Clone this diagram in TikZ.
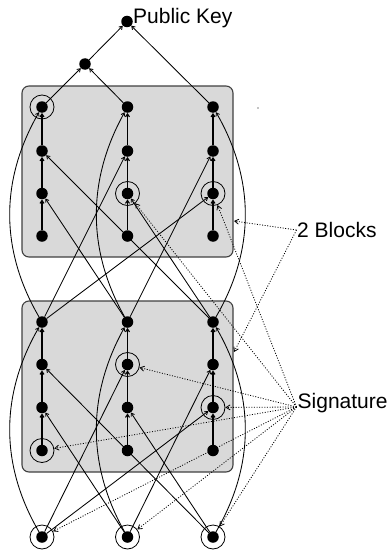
\documentclass[tikz,border=0pt]{standalone}
\usepackage{fontspec}
\setmainfont{Liberation Sans}
\usetikzlibrary{arrows.meta}
\begin{document}
\begin{tikzpicture}[x=1pt,y=-1pt,
  dot/.style={circle,fill=black,inner sep=0pt,minimum size=11.5pt},
  ring/.style={circle,draw,inner sep=0pt,minimum size=24pt,line width=0.8pt},
  block/.style={draw=black!75,fill=black!15,line width=1.1pt,rounded corners=7pt,inner sep=0pt,minimum width=211pt,minimum height=171pt},
  edge/.style={line width=0.85pt,-{Straight Barb[length=3pt,width=4pt]}},
  chain/.style={edge,line width=1.1pt},
  ptr/.style={line width=0.8pt,dash pattern=on 1pt off 1.6pt,-{Straight Barb[length=4pt,width=5pt]}},
  lbl/.style={font=\fontsize{21}{25}\selectfont,anchor=base west,inner sep=0pt}
]
\useasboundingbox (0,0) rectangle (391,551);
% blocks
\node[block] (blkT) at (127.5,171.5) {};
\node[block] (blkB) at (127.5,386.5) {};
% nodes
\foreach \c/\x in {1/42,2/127.5,3/213}{
  \foreach \r/\y in {1/107,2/151,3/193.5,4/236}{
    \node[dot] (t\r\c) at (\x,\y) {};
  }
  \foreach \r/\y in {1/322,2/364.5,3/407.5,4/450.5}{
    \node[dot] (b\r\c) at (\x,\y) {};
  }
  \node[dot] (s\c) at (\x,537) {};
  \node[ring] (rs\c) at (\x,537) {};
}
\node[ring] (rt11) at (t11) {};
\node[ring] (rt32) at (t32) {};
\node[ring] (rt33) at (t33) {};
\node[ring] (rb22) at (b22) {};
\node[ring] (rb33) at (b33) {};
\node[ring] (rb41) at (b41) {};
\node[dot] (m) at (85,64) {};
\node[dot] (pk) at (127,21.5) {};
% chains
\foreach \k in {t,b}{
  \foreach \c in {1,2,3}{
    \draw[chain] (\k4\c) -- (\k3\c);
    \draw[chain] (\k3\c) -- (\k2\c);
    \draw[chain] (\k2\c) -- (\k1\c);
  }
}
% top tree
\draw[edge] (t11) -- (m);
\draw[edge] (t12) -- (m);
\draw[edge] (m) -- (pk);
\draw[edge] (t13) -- (pk);
% cross edges into top block
\draw[edge] (b11) .. controls (0,250) and (0,180) .. (t11);
\draw[edge] (b12) .. controls (87,250) and (87,180) .. (t12);
\draw[edge] (b13) .. controls (255,250) and (255,180) .. (t13);
\draw[edge] (b13) -- (t21);
\draw[edge] (b11) -- (t22);
\draw[edge] (b12) -- (t23);
\draw[edge] (b12) -- (t31);
\draw[edge] (b13) -- (t32);
\draw[edge] (b11) -- (t33);
% cross edges into bottom block
\draw[edge] (s1) .. controls (0,465) and (0,395) .. (b11);
\draw[edge] (s2) .. controls (87,465) and (87,395) .. (b12);
\draw[edge] (s3) .. controls (255,465) and (255,395) .. (b13);
\draw[edge] (s3) -- (b21);
\draw[edge] (s1) -- (b22);
\draw[edge] (s2) -- (b23);
\draw[edge] (s2) -- (b31);
\draw[edge] (s3) -- (b32);
\draw[edge] (s1) -- (b33);
% labels
\node[lbl] (lpk) at (133,24) {Public Key};
\node[lbl] (lblk) at (297,237) {2 Blocks};
\node[lbl] (lsig) at (297.5,408) {Signature};
\coordinate (pb) at (296.5,230);
\coordinate (ps) at (296.5,407);
\coordinate (bt) at (234,221);
\coordinate (bb) at (234,352);
\draw[ptr] (pb) -- (bt);
\draw[ptr] (pb) -- (bb);
\foreach \t in {rt32,rt33,rb22,rb33,rb41,rs1,rs2,rs3}{
  \draw[ptr] (ps) -- (\t);
}
\fill (258,108) circle (0.6pt);
\end{tikzpicture}
\end{document}
